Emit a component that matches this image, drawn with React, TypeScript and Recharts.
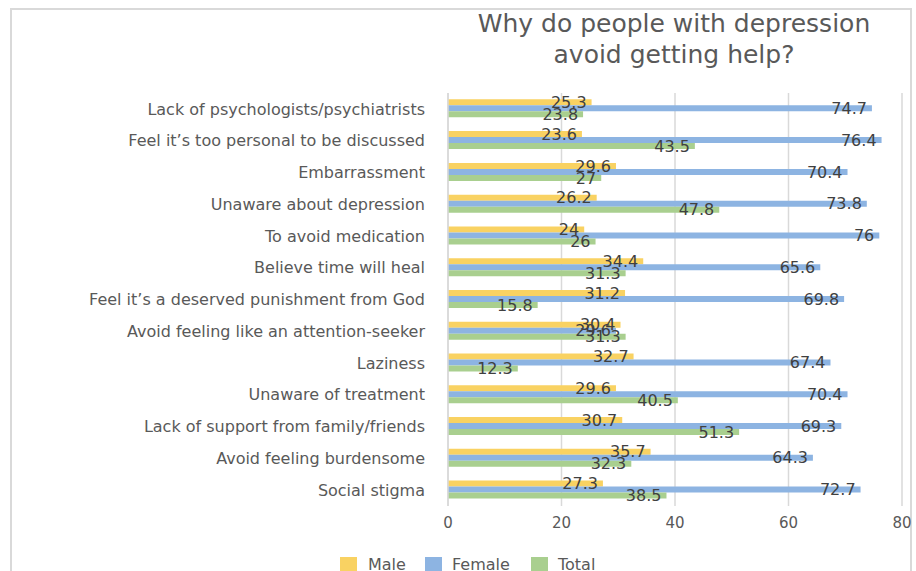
import React from "react";
import { BarChart, Bar, XAxis, YAxis, CartesianGrid, LabelList } from "recharts";

const categories = [
  "Lack of psychologists/psychiatrists",
  "Feel it\u2019s too personal to be discussed",
  "Embarrassment",
  "Unaware about depression",
  "To avoid medication",
  "Believe time will heal",
  "Feel it\u2019s a deserved punishment from God",
  "Avoid feeling like an attention-seeker",
  "Laziness",
  "Unaware of treatment",
  "Lack of support from family/friends",
  "Avoid feeling burdensome",
  "Social stigma",
];
const male = [25.3, 23.6, 29.6, 26.2, 24, 34.4, 31.2, 30.4, 32.7, 29.6, 30.7, 35.7, 27.3];
const female = [74.7, 76.4, 70.4, 73.8, 76, 65.6, 69.8, 29.6, 67.4, 70.4, 69.3, 64.3, 72.7];
const total = [23.8, 43.5, 27, 47.8, 26, 31.3, 15.8, 31.3, 12.3, 40.5, 51.3, 32.3, 38.5];
const xTicks = [0, 20, 40, 60, 80];

const data = categories.map((c, i) => ({ name: c, Male: male[i], Female: female[i], Total: total[i] }));

const FONT = "'DejaVu Sans', Verdana, sans-serif";
const COLORS = { Male: "#F9D262", Female: "#8DB4E2", Total: "#A9CF8F" };

export default function App() {
  const legendItems = [
    { name: "Male", color: COLORS.Male, sq: 340, tx: 368 },
    { name: "Female", color: COLORS.Female, sq: 425, tx: 452 },
    { name: "Total", color: COLORS.Total, sq: 531, tx: 558 },
  ];
  return (
    <div style={{ position: "absolute", left: 0, top: 0, width: 916, height: 571, overflow: "hidden", background: "#fff", fontFamily: FONT }}>
      <div style={{ position: "absolute", left: 10, top: 8, width: 898, height: 620, borderLeft: "2px solid #d9d9d9", borderTop: "2px solid #d9d9d9", borderRight: "2px solid #d9d9d9" }} />
      <div style={{ position: "absolute", left: 444, top: 8, width: 460, textAlign: "center", fontSize: 25, lineHeight: "31px", color: "#595959" }}>
        Why do people with depression
        <br />
        avoid getting help?
      </div>
      <div style={{ position: "absolute", left: 0, top: 0 }}>
        <BarChart
          width={916}
          height={571}
          data={data}
          layout="vertical"
          margin={{ top: 93, right: 14, left: 0, bottom: 0 }}
          barCategoryGap="20%"
          barGap={0}
        >
          <CartesianGrid horizontal={false} stroke="#d9d9d9" strokeWidth={1.5} />
          <XAxis
            type="number"
            domain={[0, 80]}
            ticks={xTicks}
            height={65}
            axisLine={false}
            tickLine={false}
            tickSize={0}
            tickMargin={11}
            tick={{ fill: "#595959", fontSize: 15, fontFamily: FONT }}
          />
          <YAxis
            type="category"
            dataKey="name"
            width={448}
            axisLine={{ stroke: "#d9d9d9", strokeWidth: 1.5 }}
            tickLine={false}
            tickSize={0}
            tickMargin={23}
            interval={0}
            tick={{ fill: "#595959", fontSize: 16, fontFamily: FONT }}
          />
          {(["Male", "Female", "Total"] as const).map((k) => (
            <Bar key={k} dataKey={k} fill={COLORS[k]} isAnimationActive={false}>
              <LabelList dataKey={k} position="insideRight" offset={5} fill="#404040" fontSize={16} fontFamily={FONT} />
            </Bar>
          ))}
        </BarChart>
      </div>
      {legendItems.map((it) => (
        <React.Fragment key={it.name}>
          <div style={{ position: "absolute", left: it.sq, top: 557, width: 17, height: 17, background: it.color }} />
          <div style={{ position: "absolute", left: it.tx, top: 555, fontSize: 16, lineHeight: "20px", color: "#595959", whiteSpace: "nowrap" }}>{it.name}</div>
        </React.Fragment>
      ))}
    </div>
  );
}
